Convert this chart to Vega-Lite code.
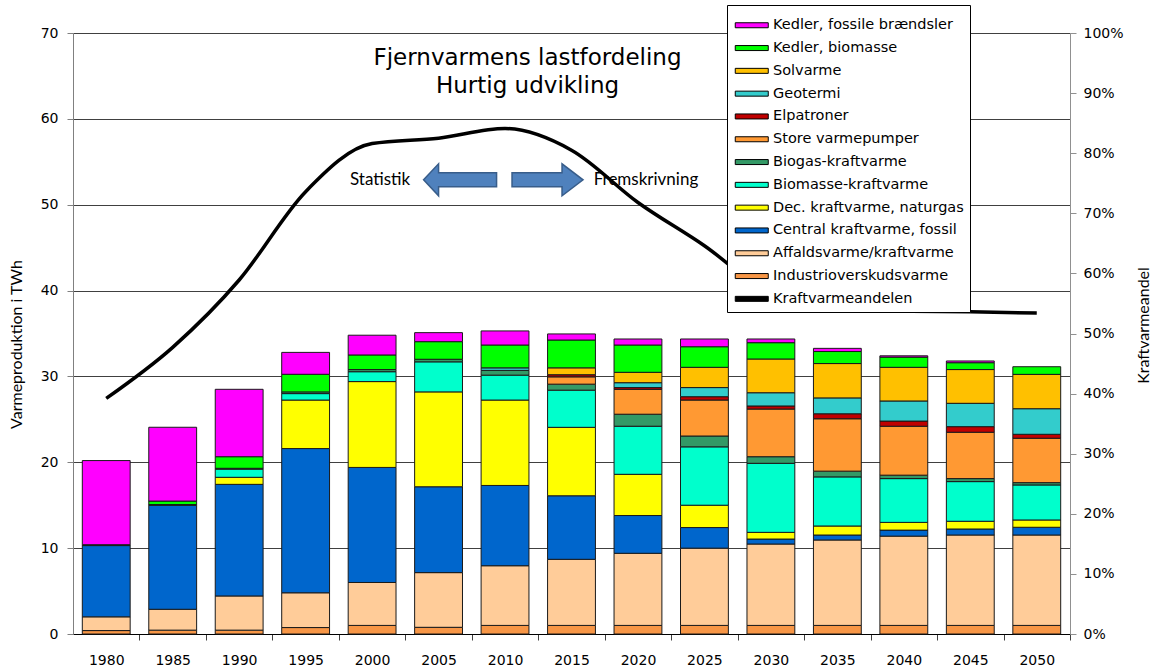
{
  "$schema": "https://vega.github.io/schema/vega-lite/v6.json",
  "width": 997,
  "height": 601,
  "autosize": {"type": "none"},
  "padding": {"left": 73, "top": 33, "right": 83, "bottom": 35},
  "background": "white",
  "config": {"view": {"stroke": null}, "font": "DejaVu Sans"},
  "title": {
    "text": ["Fjernvarmens lastfordeling", "Hurtig udvikling"],
    "font": "DejaVu Sans", "fontSize": 23, "fontWeight": "normal", "color": "black",
    "anchor": "middle", "frame": "group", "offset": -93, "dx": -44, "lineHeight": 28
  },
  "datasets": {
    "bars": [
      {"aar": "1980", "ind": 0.4, "aff": 1.6, "cen": 8.3, "dec": 0, "bkv": 0, "bgas": 0, "vp": 0, "elp": 0, "geo": 0, "sol": 0, "kbio": 0.1, "kfos": 9.8},
      {"aar": "1985", "ind": 0.45, "aff": 2.43, "cen": 12.1, "dec": 0, "bkv": 0, "bgas": 0.1, "vp": 0, "elp": 0, "geo": 0, "sol": 0, "kbio": 0.4, "kfos": 8.6},
      {"aar": "1990", "ind": 0.45, "aff": 3.98, "cen": 13.0, "dec": 0.82, "bkv": 0.95, "bgas": 0.1, "vp": 0, "elp": 0, "geo": 0, "sol": 0, "kbio": 1.35, "kfos": 7.85},
      {"aar": "1995", "ind": 0.75, "aff": 4.05, "cen": 16.8, "dec": 5.65, "bkv": 0.75, "bgas": 0.2, "vp": 0, "elp": 0, "geo": 0, "sol": 0, "kbio": 2.05, "kfos": 2.55},
      {"aar": "2000", "ind": 1.0, "aff": 5.0, "cen": 13.4, "dec": 10.0, "bkv": 1.15, "bgas": 0.25, "vp": 0, "elp": 0, "geo": 0, "sol": 0, "kbio": 1.7, "kfos": 2.3},
      {"aar": "2005", "ind": 0.78, "aff": 6.37, "cen": 10.0, "dec": 11.05, "bkv": 3.5, "bgas": 0.3, "vp": 0, "elp": 0, "geo": 0, "sol": 0, "kbio": 2.05, "kfos": 1.05},
      {"aar": "2010", "ind": 1.0, "aff": 6.95, "cen": 9.35, "dec": 9.95, "bkv": 2.9, "bgas": 0.55, "vp": 0, "elp": 0, "geo": 0.3, "sol": 0, "kbio": 2.66, "kfos": 1.64},
      {"aar": "2015", "ind": 1.0, "aff": 7.7, "cen": 7.4, "dec": 7.97, "bkv": 4.33, "bgas": 0.7, "vp": 0.85, "elp": 0.25, "geo": 0, "sol": 0.8, "kbio": 3.24, "kfos": 0.71},
      {"aar": "2020", "ind": 1.0, "aff": 8.4, "cen": 4.4, "dec": 4.8, "bkv": 5.6, "bgas": 1.4, "vp": 2.9, "elp": 0.2, "geo": 0.57, "sol": 1.21, "kbio": 3.18, "kfos": 0.7},
      {"aar": "2025", "ind": 1.0, "aff": 9.0, "cen": 2.4, "dec": 2.6, "bkv": 6.8, "bgas": 1.26, "vp": 4.19, "elp": 0.39, "geo": 1.06, "sol": 2.36, "kbio": 2.4, "kfos": 0.9},
      {"aar": "2030", "ind": 1.0, "aff": 9.48, "cen": 0.58, "dec": 0.78, "bkv": 8.04, "bgas": 0.77, "vp": 5.55, "elp": 0.36, "geo": 1.54, "sol": 3.93, "kbio": 1.9, "kfos": 0.43},
      {"aar": "2035", "ind": 1.0, "aff": 9.95, "cen": 0.58, "dec": 1.05, "bkv": 5.72, "bgas": 0.67, "vp": 6.1, "elp": 0.58, "geo": 1.85, "sol": 4.0, "kbio": 1.4, "kfos": 0.37},
      {"aar": "2040", "ind": 1.0, "aff": 10.4, "cen": 0.7, "dec": 0.9, "bkv": 5.1, "bgas": 0.4, "vp": 5.7, "elp": 0.6, "geo": 2.34, "sol": 3.92, "kbio": 1.19, "kfos": 0.15},
      {"aar": "2045", "ind": 1.0, "aff": 10.53, "cen": 0.7, "dec": 0.9, "bkv": 4.62, "bgas": 0.35, "vp": 5.4, "elp": 0.65, "geo": 2.72, "sol": 3.93, "kbio": 0.8, "kfos": 0.2},
      {"aar": "2050", "ind": 1.0, "aff": 10.53, "cen": 0.9, "dec": 0.85, "bkv": 4.08, "bgas": 0.27, "vp": 5.17, "elp": 0.46, "geo": 2.98, "sol": 4.0, "kbio": 0.89, "kfos": 0}
    ],
    "kilder": [
      {"key": "kfos", "kilde": "Kedler, fossile brændsler"},
      {"key": "kbio", "kilde": "Kedler, biomasse"},
      {"key": "sol", "kilde": "Solvarme"},
      {"key": "geo", "kilde": "Geotermi"},
      {"key": "elp", "kilde": "Elpatroner"},
      {"key": "vp", "kilde": "Store varmepumper"},
      {"key": "bgas", "kilde": "Biogas-kraftvarme"},
      {"key": "bkv", "kilde": "Biomasse-kraftvarme"},
      {"key": "dec", "kilde": "Dec. kraftvarme, naturgas"},
      {"key": "cen", "kilde": "Central kraftvarme, fossil"},
      {"key": "aff", "kilde": "Affaldsvarme/kraftvarme"},
      {"key": "ind", "kilde": "Industrioverskudsvarme"}
    ],
    "andel": [
      {"aar": "1980", "andel": 0.392},
      {"aar": "1985", "andel": 0.477},
      {"aar": "1990", "andel": 0.589},
      {"aar": "1995", "andel": 0.736},
      {"aar": "2000", "andel": 0.816},
      {"aar": "2005", "andel": 0.825},
      {"aar": "2010", "andel": 0.841},
      {"aar": "2015", "andel": 0.805},
      {"aar": "2020", "andel": 0.718},
      {"aar": "2025", "andel": 0.646},
      {"aar": "2030", "andel": 0.565},
      {"aar": "2035", "andel": 0.537},
      {"aar": "2040", "andel": 0.537},
      {"aar": "2045", "andel": 0.536},
      {"aar": "2050", "andel": 0.534}
    ],
    "pile": [
      {"aar": "2005", "y": 52.9, "pil": "venstre"},
      {"aar": "2010", "y": 52.9, "pil": "hoejre"}
    ],
    "tekst": [
      {"aar": "2000", "y": 52.9, "tekst": "Statistik"},
      {"aar": "2020", "y": 52.9, "tekst": "Fremskrivning"}
    ]
  },
  "layer": [
    {
      "layer": [
        {
          "data": {"name": "bars"},
          "transform": [
            {"fold": ["ind", "aff", "cen", "dec", "bkv", "bgas", "vp", "elp", "geo", "sol", "kbio", "kfos"], "as": ["key", "TWh"]},
            {"filter": "datum.TWh > 0"},
            {"lookup": "key", "from": {"data": {"name": "kilder"}, "key": "key", "fields": ["kilde"]}},
            {"calculate": "indexof(['kfos','kbio','sol','geo','elp','vp','bgas','bkv','dec','cen','aff','ind'], datum.key)", "as": "rank"}
          ],
          "mark": {"type": "bar", "stroke": "#1a1a1a", "strokeWidth": 1},
          "encoding": {
            "x": {
              "field": "aar", "type": "nominal",
              "scale": {"paddingInner": 0.28, "paddingOuter": 0.14},
              "axis": {
                "title": null, "labelAngle": 0, "labelFont": "DejaVu Sans", "labelFontSize": 14,
                "labelColor": "black", "domainColor": "black", "tickColor": "#404040", "tickSize": 6,
                "tickOffset": 33.23, "labelOffset": -33.23, "labelPadding": 13, "grid": false
              }
            },
            "y": {
              "field": "TWh", "type": "quantitative", "stack": "zero",
              "scale": {"domain": [0, 70]},
              "axis": {
                "values": [0, 10, 20, 30, 40, 50, 60, 70], "grid": true, "gridColor": "#404040", "gridWidth": 1,
                "domainColor": "#808080", "tickColor": "#808080", "tickSize": 6,
                "labelFont": "DejaVu Sans", "labelFontSize": 14, "labelColor": "black", "labelPadding": 9,
                "title": "Varmeproduktion i TWh", "titleFont": "Lato", "titleFontSize": 16,
                "titleFontWeight": "normal", "titleColor": "black",
                "titleX": -57, "titleY": 311, "titleAngle": 270, "titleBaseline": "middle", "titleAlign": "center"
              }
            },
            "color": {
              "field": "kilde", "type": "nominal",
              "scale": {
                "domain": ["Kedler, fossile brændsler", "Kedler, biomasse", "Solvarme", "Geotermi", "Elpatroner", "Store varmepumper", "Biogas-kraftvarme", "Biomasse-kraftvarme", "Dec. kraftvarme, naturgas", "Central kraftvarme, fossil", "Affaldsvarme/kraftvarme", "Industrioverskudsvarme", "Kraftvarmeandelen"],
                "range": ["#FF00FF", "#00FF00", "#FFC000", "#33CCCC", "#C00000", "#FF9933", "#339966", "#00FFCC", "#FFFF00", "#0066CC", "#FFCC99", "#F79646", "#000000"]
              },
              "legend": {
                "orient": "none", "legendX": 654, "legendY": -28, "title": " ", "titleFontSize": 2, "titlePadding": 5,
                "direction": "vertical",
                "fillColor": "white", "strokeColor": "black", "padding": 6,
                "labelFont": "DejaVu Sans", "labelFontSize": 14.5, "labelColor": "black", "labelOffset": 25.5,
                "labelLimit": 300, "symbolSize": 100, "rowPadding": 7.8,
                "symbolType": "M-1,-0.5H5.6V0.5H-1Z",
                "symbolStrokeColor": "black", "symbolStrokeWidth": 1, "symbolOpacity": 1
              }
            },
            "order": {"field": "rank", "type": "quantitative", "sort": "descending"}
          }
        },
        {
          "data": {"name": "pile"},
          "mark": {"type": "point", "filled": true, "size": 4, "fill": "#4F81BD", "stroke": "#385D8A", "strokeWidth": 1.5, "opacity": 1},
          "encoding": {
            "x": {"field": "aar", "type": "nominal"},
            "y": {"field": "y", "type": "quantitative"},
            "shape": {
              "field": "pil", "type": "nominal", "legend": null,
              "scale": {
                "domain": ["venstre", "hoejre"],
                "range": ["M-15,0L0,-16L0,-7L58,-7L58,7L0,7L0,16Z", "M7,-7L57,-7L57,-16L78,0L57,16L57,7L7,7Z"]
              }
            }
          }
        },
        {
          "data": {"name": "tekst"},
          "mark": {"type": "text", "font": "Lato", "fontSize": 17, "color": "black", "baseline": "middle", "align": "center", "dx": 8},
          "encoding": {
            "x": {"field": "aar", "type": "nominal"},
            "y": {"field": "y", "type": "quantitative"},
            "text": {"field": "tekst"}
          }
        }
      ]
    },
    {
      "data": {"name": "andel"},
      "mark": {"type": "line", "color": "black", "strokeWidth": 3.5, "interpolate": "monotone"},
      "encoding": {
        "x": {"field": "aar", "type": "nominal"},
        "y": {
          "field": "andel", "type": "quantitative",
          "scale": {"domain": [0, 1]},
          "axis": {
            "orient": "right", "format": ".0%", "values": [0, 0.1, 0.2, 0.3, 0.4, 0.5, 0.6, 0.7, 0.8, 0.9, 1],
            "grid": false, "domainColor": "#909090", "tickColor": "#909090", "tickSize": 6,
            "labelFont": "DejaVu Sans", "labelFontSize": 14, "labelColor": "black", "labelPadding": 7,
            "title": "Kraftvarmeandel", "titleFont": "Lato", "titleFontSize": 16, "titleFontWeight": "normal",
            "titleColor": "black", "titleX": 73, "titleY": 292, "titleAngle": 270, "titleBaseline": "middle", "titleAlign": "center"
          }
        }
      }
    }
  ],
  "resolve": {"scale": {"y": "independent"}, "axis": {"y": "independent"}}
}
